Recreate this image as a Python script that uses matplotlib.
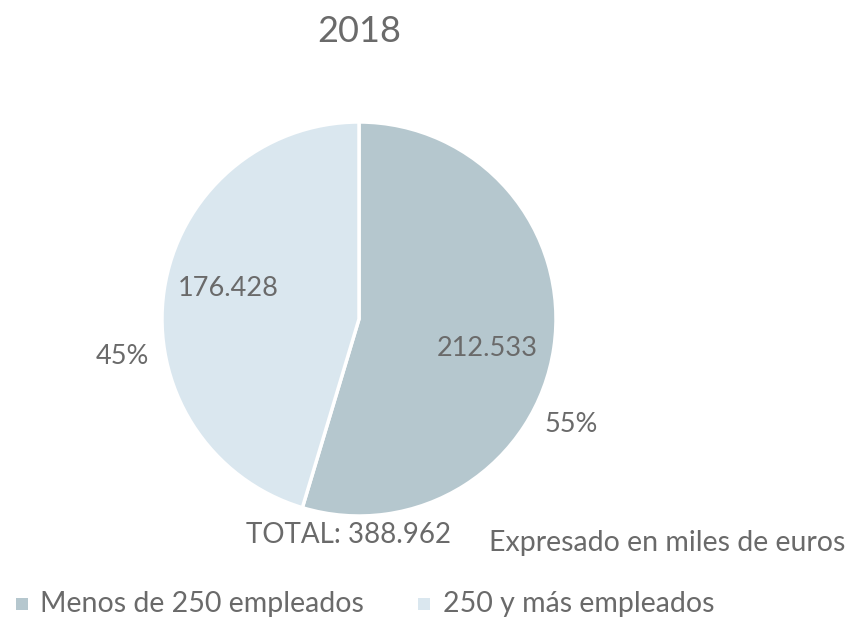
import matplotlib
matplotlib.use("Agg")
import matplotlib.pyplot as plt
from matplotlib.patches import Rectangle

# Data
categories = ["Menos de 250 empleados", "250 y más empleados"]
values = [212533, 176428]
total_label = "TOTAL: 388.962"
note = "Expresado en miles de euros"
title = "2018"
colors = ["#B5C7CE", "#DAE7EF"]
text_color = "#6a6a6a"

plt.rcParams["font.family"] = ["Lato", "DejaVu Sans"]

W, H = 851, 618
fig = plt.figure(figsize=(W / 100, H / 100), dpi=100)
ax = fig.add_axes([0, 0, 1, 1])

cx, cy, r = 359, H - 319, 197
wedges, _ = ax.pie(values, colors=colors, startangle=90, counterclock=False,
                   center=(cx, cy), radius=r, frame=True,
                   wedgeprops=dict(edgecolor="white", linewidth=2.5))
ax.set_xlim(0, W)
ax.set_ylim(0, H)
ax.set_aspect("equal")
ax.axis("off")


def fmt(v):
    return f"{v:,}".replace(",", ".")


tot = sum(values)
pcts = [f"{round(v / tot * 100)}%" for v in values]

# value labels inside, percentages outside
ax.text(487, H - 349, fmt(values[0]), ha="center", va="center", fontsize=19.5, color=text_color)
ax.text(571, H - 424, pcts[0], ha="center", va="center", fontsize=19.5, color=text_color)
ax.text(228, H - 289, fmt(values[1]), ha="center", va="center", fontsize=19.5, color=text_color)
ax.text(122, H - 357, pcts[1], ha="center", va="center", fontsize=19.5, color=text_color)

ax.text(359, H - 32, title, ha="center", va="center", fontsize=26, color=text_color)
ax.text(348, H - 535, total_label, ha="center", va="center", fontsize=20, color=text_color)
ax.text(667, H - 543, note, ha="center", va="center", fontsize=20.5, color=text_color)

# legend
leg = [(16, 40), (418, 443)]
for (sx, tx), lab, col in zip(leg, categories, colors):
    ax.add_patch(Rectangle((sx, H - 610), 12, 12, facecolor=col, edgecolor="none"))
    ax.text(tx, H - 604, lab, ha="left", va="center", fontsize=20.5, color=text_color)

fig.savefig("out.png", dpi=100)
